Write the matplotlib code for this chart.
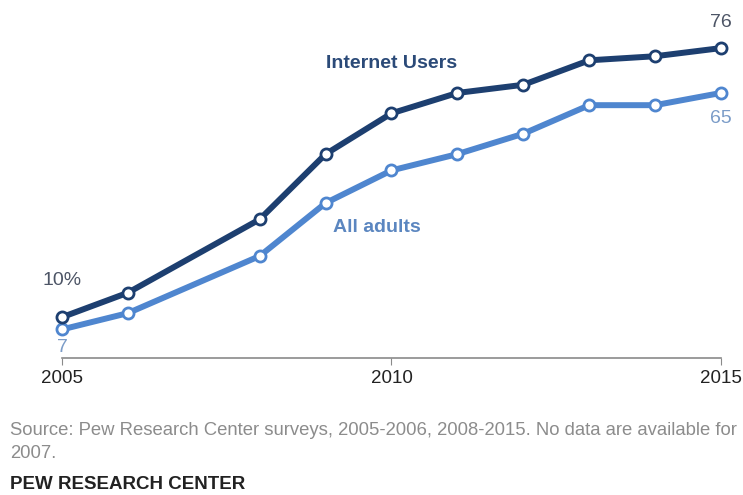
import matplotlib.pyplot as plt

# === DATA ===
years = [2005, 2006, 2008, 2009, 2010, 2011, 2012, 2013, 2014, 2015]
internet_users = [10, 16, 34, 50, 60, 65, 67, 73, 74, 76]
all_adults = [7, 11, 25, 38, 46, 50, 55, 62, 62, 65]
tick_years = [2005, 2010, 2015]

dark = '#1d3f70'
light = '#4f86cf'

plt.rcParams['font.family'] = ['Liberation Sans', 'DejaVu Sans']

fig = plt.figure(figsize=(7.43, 4.95), dpi=100)
ax = fig.add_axes([0.0834, 0.2768, 0.887, 0.659])

ax.plot(years, internet_users, color=dark, lw=4.3, marker='o', ms=8,
        mfc='white', mec=dark, mew=2, clip_on=False, zorder=3,
        solid_capstyle='round')
ax.plot(years, all_adults, color=light, lw=4.3, marker='o', ms=8,
        mfc='white', mec=light, mew=2, clip_on=False, zorder=2,
        solid_capstyle='round')

ax.set_xlim(2005, 2015)
ax.set_ylim(0, 80)

# value labels at the ends
ax.annotate('10%', (years[0], internet_users[0]), xytext=(0, 20),
            textcoords='offset points', ha='center', va='bottom',
            fontsize=14, color='#4d5566')
ax.annotate('7', (years[0], all_adults[0]), xytext=(0, -7),
            textcoords='offset points', ha='center', va='top',
            fontsize=14, color='#7b9cc8')
ax.annotate(str(internet_users[-1]), (years[-1], internet_users[-1]), xytext=(0, 12),
            textcoords='offset points', ha='center', va='bottom',
            fontsize=14, color='#4d5566')
ax.annotate(str(all_adults[-1]), (years[-1], all_adults[-1]), xytext=(0, -12),
            textcoords='offset points', ha='center', va='top',
            fontsize=14, color='#7b9cc8')

# series labels
ax.text(2010, 72.3, 'Internet Users', ha='center', va='center',
        fontsize=14, fontweight='bold', color='#2b4a78')
ax.text(2009.78, 32.0, 'All adults', ha='center', va='center',
        fontsize=14, fontweight='bold', color='#5b86c0')

# axis styling
for s in ['top', 'right', 'left']:
    ax.spines[s].set_visible(False)
ax.spines['bottom'].set_color('#8a8a8a')
ax.spines['bottom'].set_linewidth(1.2)
ax.set_yticks([])
ax.set_xticks(tick_years)
ax.set_xticklabels([str(y) for y in tick_years])
ax.tick_params(axis='x', length=5, color='#8a8a8a', labelsize=13.5,
               labelcolor='#222222', pad=4)

# footer
fig.text(0.0135, 0.131, 'Source: Pew Research Center surveys, 2005-2006, 2008-2015. No data are available for',
         fontsize=13.3, color='#8c8c8c', va='center')
fig.text(0.0135, 0.083, '2007.', fontsize=13.3, color='#8c8c8c', va='center')
fig.text(0.0135, 0.022, 'PEW RESEARCH CENTER', fontsize=13.5, fontweight='bold',
         color='#222222', va='center')

fig.savefig('out.png', dpi=100)
